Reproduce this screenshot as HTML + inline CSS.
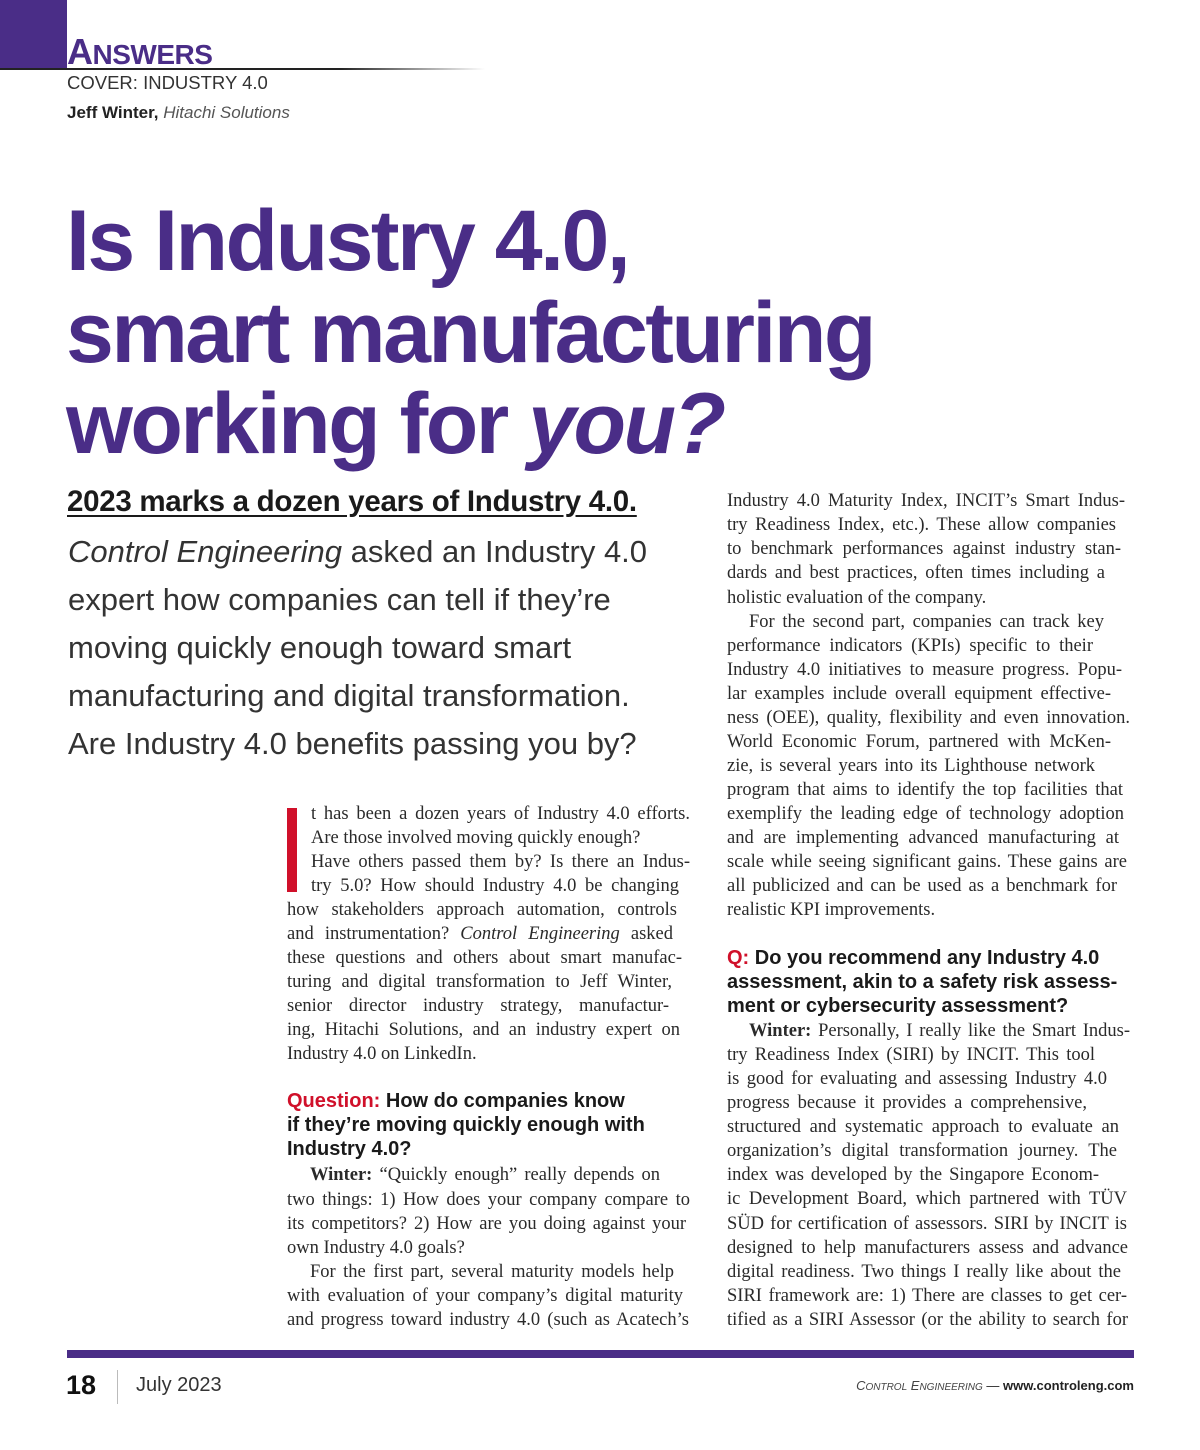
<!DOCTYPE html>
<html><head><meta charset="utf-8">
<style>
*{margin:0;padding:0;box-sizing:border-box}
body{width:1200px;height:1450px;background:#fff;position:relative;overflow:hidden;font-family:"Liberation Serif",serif;color:#222}
.a{position:absolute}
.l{position:absolute;height:24px;line-height:24px;font-size:18.5px;white-space:nowrap;color:#2a2a2a}
.L{left:287px;width:403px}
.R{left:727px;width:401px}
.j{text-align:justify;text-align-last:justify}
.h{position:absolute;font-family:"Liberation Sans",sans-serif;font-weight:bold;font-size:20px;line-height:24px;height:24px;white-space:nowrap;color:#1a1a1a}
.q{color:#d0102a}
.hd{position:absolute;left:66px;font-family:"Liberation Sans",sans-serif;font-weight:bold;font-size:86px;letter-spacing:-2.5px;color:#4a2d87;white-space:nowrap;line-height:93px}
.dk{position:absolute;left:68px;font-family:"Liberation Sans",sans-serif;font-weight:300;font-size:31px;color:#333;white-space:nowrap;line-height:48px;height:48px}
</style></head><body>
<div class="a" style="left:0;top:0;width:67px;height:68px;background:#4a2d87"></div>
<div class="a" style="left:67px;top:34px;font-family:'Liberation Sans',sans-serif;font-weight:bold;font-size:36px;line-height:36px;color:#4a2d87;letter-spacing:-0.5px">A<span style="font-size:28px">NSWERS</span></div>
<div class="a" style="left:0;top:68px;width:485px;height:1.5px;background:linear-gradient(90deg,#222 70%,#fff)"></div>
<div class="a" style="left:67px;top:72px;font-family:'Liberation Sans',sans-serif;font-size:18.5px;color:#333;font-weight:300">COVER: INDUSTRY 4.0</div>
<div class="a" style="left:67px;top:103px;font-family:'Liberation Sans',sans-serif;font-size:17px;color:#222"><b>Jeff Winter,</b> <i style="color:#555">Hitachi Solutions</i></div>

<div class="hd" style="top:195px">Is Industry 4.0,</div>
<div class="hd" style="top:287px">smart manufacturing</div>
<div class="hd" style="top:378px">working for <i>you?</i></div>

<div class="a" style="left:67px;top:485px;font-family:'Liberation Sans',sans-serif;font-weight:bold;font-size:29.5px;color:#1a1a1a;text-decoration:underline;text-underline-offset:4px;white-space:nowrap;letter-spacing:-0.3px">2023 marks a dozen years of Industry 4.0.</div>
<div class="dk" style="top:528px"><i>Control Engineering</i> asked an Industry 4.0</div>
<div class="dk" style="top:576px">expert how companies can tell if they’re</div>
<div class="dk" style="top:624px">moving quickly enough toward smart</div>
<div class="dk" style="top:672px">manufacturing and digital transformation.</div>
<div class="dk" style="top:720px">Are Industry 4.0 benefits passing you by?</div>

<div class="a" style="left:287px;top:808px;width:10px;height:84px;background:#d0102a"></div>
<div>
<div class="l j" style="left:311px;width:379px;top:802px">t has been a dozen years of Industry 4.0 efforts.</div>
<div class="l" style="left:311px;top:826px">Are those involved moving quickly enough?</div>
<div class="l j" style="left:311px;width:379px;top:850px">Have others passed them by? Is there an Indus-</div>
<div class="l j" style="left:311px;width:368px;top:874px">try 5.0? How should Industry 4.0 be changing</div>
<div class="l L j" style="width:390px;top:898px">how stakeholders approach automation, controls</div>
<div class="l L j" style="width:386px;top:922px">and instrumentation? <i>Control Engineering</i> asked</div>
<div class="l L j" style="width:395px;top:946px">these questions and others about smart manufac-</div>
<div class="l L j" style="width:385px;top:970px">turing and digital transformation to Jeff Winter,</div>
<div class="l L j" style="width:382px;top:994px">senior director industry strategy, manufactur-</div>
<div class="l L j" style="width:393px;top:1018px">ing, Hitachi Solutions, and an industry expert on</div>
<div class="l L" style="top:1042px">Industry 4.0 on LinkedIn.</div>
<div class="h" style="left:287px;top:1089px"><span class="q">Question:</span> How do companies know</div>
<div class="h" style="left:287px;top:1113px">if they’re moving quickly enough with</div>
<div class="h" style="left:287px;top:1137px">Industry 4.0?</div>
<div class="l j" style="left:310px;width:350px;top:1163px"><b>Winter:</b> “Quickly enough” really depends on</div>
<div class="l L j" style="top:1188px">two things: 1) How does your company compare to</div>
<div class="l L j" style="width:399px;top:1212px">its competitors? 2) How are you doing against your</div>
<div class="l L" style="top:1236px">own Industry 4.0 goals?</div>
<div class="l j" style="left:310px;width:364px;top:1260px">For the first part, several maturity models help</div>
<div class="l L j" style="width:396px;top:1284px">with evaluation of your company’s digital maturity</div>
<div class="l L j" style="width:402px;top:1308px">and progress toward industry 4.0 (such as Acatech’s</div>
</div>

<div>
<div class="l R j" style="width:398px;top:489px">Industry 4.0 Maturity Index, INCIT’s Smart Indus-</div>
<div class="l R j" style="width:389px;top:513px">try Readiness Index, etc.). These allow companies</div>
<div class="l R j" style="width:394px;top:537px">to benchmark performances against industry stan-</div>
<div class="l R j" style="width:378px;top:561px">dards and best practices, often times including a</div>
<div class="l R" style="top:586px">holistic evaluation of the company.</div>
<div class="l j" style="left:749px;width:355px;top:610px">For the second part, companies can track key</div>
<div class="l R j" style="width:366px;top:634px">performance indicators (KPIs) specific to their</div>
<div class="l R j" style="width:395px;top:658px">Industry 4.0 initiatives to measure progress. Popu-</div>
<div class="l R j" style="width:384px;top:682px">lar examples include overall equipment effective-</div>
<div class="l R j" style="width:403px;top:706px">ness (OEE), quality, flexibility and even innovation.</div>
<div class="l R j" style="width:384px;top:730px">World Economic Forum, partnered with McKen-</div>
<div class="l R j" style="width:368px;top:754px">zie, is several years into its Lighthouse network</div>
<div class="l R j" style="width:396px;top:778px">program that aims to identify the top facilities that</div>
<div class="l R j" style="width:397px;top:802px">exemplify the leading edge of technology adoption</div>
<div class="l R j" style="width:392px;top:826px">and are implementing advanced manufacturing at</div>
<div class="l R j" style="width:400px;top:850px">scale while seeing significant gains. These gains are</div>
<div class="l R j" style="width:390px;top:874px">all publicized and can be used as a benchmark for</div>
<div class="l R" style="top:898px">realistic KPI improvements.</div>
<div class="h" style="left:727px;top:946px"><span class="q">Q:</span> Do you recommend any Industry 4.0</div>
<div class="h" style="left:727px;top:970px">assessment, akin to a safety risk assess-</div>
<div class="h" style="left:727px;top:994px">ment or cybersecurity assessment?</div>
<div class="l j" style="left:749px;width:381px;top:1019px"><b>Winter:</b> Personally, I really like the Smart Indus-</div>
<div class="l R j" style="width:368px;top:1043px">try Readiness Index (SIRI) by INCIT. This tool</div>
<div class="l R j" style="width:380px;top:1067px">is good for evaluating and assessing Industry 4.0</div>
<div class="l R j" style="width:360px;top:1091px">progress because it provides a comprehensive,</div>
<div class="l R j" style="width:392px;top:1115px">structured and systematic approach to evaluate an</div>
<div class="l R j" style="width:390px;top:1139px">organization’s digital transformation journey. The</div>
<div class="l R j" style="width:372px;top:1163px">index was developed by the Singapore Econom-</div>
<div class="l R j" style="width:400px;top:1187px">ic Development Board, which partnered with TÜV</div>
<div class="l R j" style="width:400px;top:1212px">SÜD for certification of assessors. SIRI by INCIT is</div>
<div class="l R j" style="width:401px;top:1236px">designed to help manufacturers assess and advance</div>
<div class="l R j" style="width:394px;top:1260px">digital readiness. Two things I really like about the</div>
<div class="l R j" style="width:400px;top:1284px">SIRI framework are: 1) There are classes to get cer-</div>
<div class="l R j" style="width:401px;top:1308px">tified as a SIRI Assessor (or the ability to search for</div>
</div>

<div class="a" style="left:67px;top:1350px;width:1067px;height:8px;background:#4a2d87"></div>
<div class="a" style="left:66px;top:1370px;font-family:'Liberation Sans',sans-serif;font-weight:bold;font-size:27px;color:#111">18</div>
<div class="a" style="left:117px;top:1370px;width:1px;height:34px;background:#bbb"></div>
<div class="a" style="left:136px;top:1374px;font-family:'Liberation Sans',sans-serif;font-size:20px;color:#333;font-weight:300">July 2023</div>
<div class="a" style="right:66px;top:1378px;font-family:'Liberation Sans',sans-serif;font-size:13px;color:#222;white-space:nowrap"><i style="color:#444">C<span style="font-size:10px">ONTROL</span> E<span style="font-size:10px">NGINEERING</span></i> — <b>www.controleng.com</b></div>
</body></html>
